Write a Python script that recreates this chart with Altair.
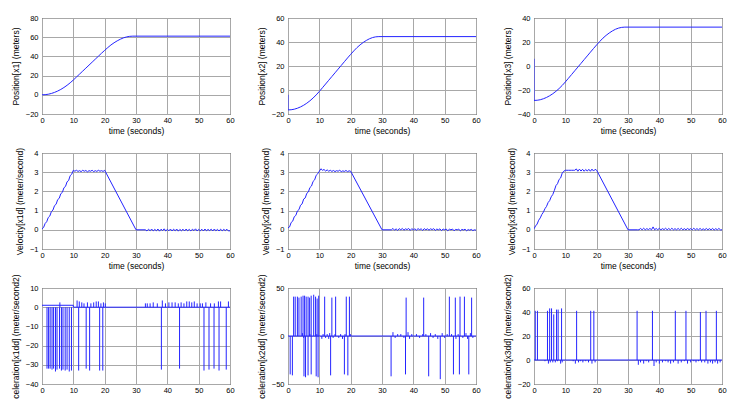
import altair as alt
import pandas as pd

BLUE = "#2424ff"
W, H = 188, 96

# ---------------- data ----------------
# Position (1-second samples 0..30, then the plateau to 60)
pos_t = [0, 1, 2, 3, 4, 5, 6, 7, 8, 9, 10, 11, 12, 13, 14, 15, 16, 17, 18, 19, 20,
         21, 22, 23, 24, 25, 26, 27, 28, 29, 30, 60]
pos_x1 = [0.0, 0.15, 0.6, 1.4, 2.5, 3.9, 5.6, 7.6, 9.9, 12.5, 15.4, 18.5, 21.6, 24.7, 27.8,
          30.9, 34.0, 37.1, 40.2, 43.3, 46.3, 49.2, 51.9, 54.2, 56.2, 57.9, 59.3, 60.3, 60.9,
          61.1, 61.1, 61.1]
pos_x2 = [-16.6, -16.45, -16.0, -15.2, -14.1, -12.7, -11.0, -9.0, -6.7, -4.1, -1.2, 1.9, 5.0,
          8.1, 11.2, 14.3, 17.4, 20.5, 23.6, 26.7, 29.7, 32.6, 35.3, 37.6, 39.6, 41.3, 42.7,
          43.7, 44.3, 44.5, 44.5, 44.5]
pos_x3 = [-28.7, -28.55, -28.1, -27.3, -26.2, -24.8, -23.1, -21.1, -18.8, -16.2, -13.3, -10.2,
          -7.1, -4.0, -0.9, 2.2, 5.3, 8.4, 11.5, 14.6, 17.6, 20.5, 23.2, 25.5, 27.5, 29.2,
          30.6, 31.6, 32.2, 32.4, 32.4, 32.4]
pos_x2_start = -4.0
pos_x3_start = 6.0

# Velocity: ramp (0..10 step .5), plateau (10.5..20 step .5), 30, then 33..60 step .5
vel_ramp_t = [0, 0.5, 1, 1.5, 2, 2.5, 3, 3.5, 4, 4.5, 5, 5.5, 6, 6.5, 7, 7.5, 8, 8.5, 9, 9.5, 10]
vel_plat_t = [10.5, 11, 11.5, 12, 12.5, 13, 13.5, 14, 14.5, 15, 15.5, 16, 16.5, 17, 17.5, 18,
              18.5, 19, 19.5, 20]
vel_stop_t = [30]
vel_tail_t = [33 + 0.5 * i for i in range(55)]

v1_ramp = [0.05, 0.12, 0.33, 0.42, 0.64, 0.72, 0.95, 1.03, 1.26, 1.33, 1.57, 1.64, 1.88, 1.95,
           2.19, 2.26, 2.5, 2.57, 2.82, 2.9, 3.1]
v1_plat = [3.05, 3.1, 3.04, 3.08, 3.03, 3.1, 3.05, 3.09, 3.02, 3.08, 3.05, 3.1, 3.03, 3.08, 3.04,
           3.1, 3.05, 3.08, 3.04, 3.1]
v1_tail = [0.0, -0.06, 0.03, -0.05, 0.04, -0.06, 0.02, -0.05, 0.04, -0.07, 0.03, -0.04, 0.05,
           -0.06, 0.02, -0.05, 0.04, -0.06, 0.03, -0.05, 0.04, -0.07, 0.02, -0.05, 0.03, -0.06,
           0.04, -0.05, 0.02, -0.06, 0.03, -0.04, 0.05, -0.06, 0.02, -0.05, 0.03, -0.06, 0.04,
           -0.05, 0.02, -0.04, 0.03, -0.06, 0.04, -0.05, 0.02, -0.06, 0.03, -0.05, 0.02, -0.04,
           0.03, -0.06, -0.05]

v2_ramp = [0.1, 0.15, 0.38, 0.45, 0.68, 0.75, 0.98, 1.05, 1.28, 1.35, 1.6, 1.66, 1.9, 1.97, 2.2,
           2.28, 2.52, 2.6, 2.84, 2.92, 3.05]
v2_plat = [3.18, 3.1, 3.14, 3.06, 3.12, 3.05, 3.1, 3.04, 3.09, 3.03, 3.08, 3.05, 3.1, 3.03, 3.07,
           3.04, 3.09, 3.03, 3.07, 3.05]
v2_tail = [0.0, 0.07, -0.02, 0.05, -0.03, 0.06, 0.0, 0.07, -0.02, 0.05, 0.01, 0.07, -0.03, 0.06,
           0.0, 0.05, -0.02, 0.06, 0.01, 0.05, -0.03, 0.06, 0.0, 0.05, -0.02, 0.05, 0.01, 0.06,
           -0.03, 0.04, 0.0, 0.05, -0.04, 0.04, 0.0, 0.04, -0.05, 0.03, 0.0, 0.04, -0.05, 0.02,
           0.0, 0.03, -0.05, 0.02, -0.01, 0.03, -0.05, 0.01, -0.02, 0.02, -0.04, 0.0, -0.02]

v3_ramp = [0.05, 0.2, 0.3, 0.5, 0.62, 0.8, 0.92, 1.1, 1.22, 1.42, 1.52, 1.72, 1.84, 2.05, 2.3,
           2.4, 2.62, 2.7, 2.95, 3.05, 3.1]
v3_plat = [3.1, 3.1, 3.1, 3.1, 3.1, 3.1, 3.17, 3.05, 3.16, 3.06, 3.15, 3.05, 3.14, 3.06, 3.15,
           3.05, 3.16, 3.06, 3.15, 3.1]
v3_tail = [0.0, 0.0, 0.07, 0.0, 0.08, 0.0, 0.06, 0.01, 0.07, 0.0, 0.15, 0.0, 0.07, 0.0, 0.08,
           0.0, 0.06, 0.01, 0.08, 0.0, 0.07, 0.0, 0.08, 0.0, 0.06, 0.0, 0.07, 0.0, 0.08, 0.0,
           0.06, 0.0, 0.07, 0.01, 0.06, 0.0, 0.08, 0.0, 0.06, 0.0, 0.07, 0.0, 0.05, 0.0, 0.07,
           0.0, 0.06, 0.0, 0.07, -0.01, 0.06, 0.0, 0.07, 0.0, 0.0]

# Acceleration: baseline + spikes (time, peak)
a1_base_t = [0, 10, 10, 60]
a1_base_v = [1, 1, 0, 0]
a1_spk_t = [1.6, 2.1, 2.6, 3.2, 3.7, 4.3, 4.8, 5.6, 6.2, 6.7, 7.4, 8.0, 8.7, 9.4, 11.7, 14.1,
            15.2, 18.4, 19.4, 38.1, 43.9, 51.7, 53.3, 54.9, 56.5, 58.8,
            5.7, 11.2, 11.9, 12.7, 13.4, 14.5, 15.6, 16.5, 17.3, 18.0, 18.8, 19.6, 20.2, 33.0,
            33.6, 34.5, 35.5, 36.8, 38.4, 39.4, 40.5, 41.5, 42.5, 43.5, 44.4, 45.3, 46.2, 47.0,
            47.8, 48.6, 49.5, 50.5, 51.2, 52.3, 53.8, 55.0, 56.3, 57.0, 59.5]
a1_spk_v = [-32, -32, -32, -32.5, -32, -33.5, -32.5, -32, -33, -32.5, -33, -32.5, -33.5, -33,
            -33, -32, -33, -33, -33, -32.5, -32, -33, -32.5, -32, -33, -32.5,
            2.5, 3.5, 3, 2.5, 2, 2.5, 2, 2.5, 3, 3, 2, 2.5, 2, 2, 2, 2, 2.5, 2, 3.5, 2, 2.5,
            2.5, 2.5, 2, 2.5, 2, 3, 3, 2.5, 3, 2, 2, 2, 2.5, 2, 2, 3, 3, 3]

a2_base_t = [0, 60]
a2_base_v = [0, 0]
a2_spk_t = [1.8, 2.3, 3.0, 3.5, 4.2, 4.8, 5.3, 5.8, 6.4, 6.9, 7.4, 8.2, 8.8, 9.3, 9.8, 11.7,
            14.0, 15.2, 18.6, 19.6, 37.7, 43.3, 51.5, 53.4, 54.9, 56.3, 58.6,
            0.7, 1.4, 5.1, 5.6, 6.4, 7.4, 9.0, 9.6, 13.6, 18.0, 19.1, 32.9, 37.5, 44.9, 48.6,
            52.8, 54.7, 57.7,
            4.6, 5.0, 7.0, 9.2, 10.8, 11.2, 12.0, 12.5, 13.0, 13.3, 14.4, 15.0, 16.2, 16.8,
            17.4, 18.2, 19.9, 33.5, 34.2, 35.0, 36.0, 37.0, 38.3, 38.8, 39.5, 41.0, 42.0, 43.0,
            44.0, 45.5, 46.3, 47.0, 47.8, 49.2, 50.0, 50.8, 52.2, 53.6, 54.3, 55.8, 56.8, 57.3,
            58.2, 59.0]
a2_spk_v = [41, 41, 41, 40, 41, 42, 42, 41, 41, 40, 42, 43, 41, 39, 42, 41, 40, 41, 41, 41, 40,
            40, 41, 40, 41, 41, 40,
            -40, -41, -42, -43, -41, -40, -42, -43, -41, -40, -41, -42, -40, -42, -45, -40, -40,
            -40,
            3, -2, 2, 2, -3, 2, -2, 2, -3, 3, -2, 2, -2, 2, -3, 2, 2, 4, -2, 2, 2, -2, 4, -3, 2,
            2, -2, 2, 2, 3, -2, 2, -3, 3, -2, 2, 2, -3, 2, -2, 3, -3, 3, -2]

a3_base_t = [0, 60]
a3_base_v = [0, 0]
a3_spk_t = [0.4, 1.1, 4.3, 5.0, 5.6, 6.3, 7.2, 7.7, 8.8, 13.6, 18.1, 19.1, 32.9, 37.8, 45.1,
            48.5, 53.1, 54.9, 58.2,
            3.5, 4.6, 5.2, 6.0, 6.8, 7.5, 8.5, 9.0, 12.5, 13.2, 14.2, 14.8, 15.6, 16.5, 17.4,
            18.5, 19.5, 33.3, 34.0, 35.0, 35.8, 36.6, 38.3, 39.0, 40.0, 41.0, 42.0, 42.8, 43.6,
            44.5, 46.0, 47.0, 48.0, 49.0, 50.0, 51.0, 51.7, 52.5, 53.5, 54.5, 55.5, 56.3, 57.0,
            57.8, 58.6, 59.4]
a3_spk_v = [41, 41, 41, 43, 43, 38, 42, 42, 43, 41, 41, 41, 41, 41, 41, 41, 40, 41, 41,
            -1, -3, -2, -2, -2, -1, -3, -2, -1, -3, -2, -1, -2, -1, -2, -3, -2, -4, -2, -3, -1,
            -2, -5, -2, -3, -2, -1, -2, -3, -2, -3, -2, -1, -3, -2, -1, -2, -1, -2, -2, -3, -2,
            -3, -2, -3, -2]

XTICKS = [0, 10, 20, 30, 40, 50, 60]


def xenc(title):
    return alt.X("t:Q", scale=alt.Scale(domain=[0, 60], nice=False, zero=False),
                 axis=alt.Axis(values=XTICKS, title=title, labelFlush=False,
                               labelPadding=2, titlePadding=3))


def yenc(field, dom, vals, title):
    return alt.Y(f"{field}:Q", scale=alt.Scale(domain=dom, nice=False, zero=False),
                 axis=alt.Axis(values=vals, title=title, labelPadding=4, titlePadding=5))


def line_panel(ts, vs, dom, vals, ytitle, xtitle):
    df = pd.DataFrame({"t": ts, "v": vs, "o": list(range(len(ts)))})
    return alt.Chart(df).mark_line(color=BLUE, strokeWidth=1, clip=True).encode(
        x=xenc(xtitle), y=yenc("v", dom, vals, ytitle), order="o:Q"
    ).properties(width=W, height=H)


def accel_panel(bt, bv, st, sv, dom, vals, ytitle):
    bdf = pd.DataFrame({"t": bt, "v": bv, "o": list(range(len(bt)))})
    sdf = pd.DataFrame({"t": st, "v": sv, "v0": [0] * len(st)})
    base = alt.Chart(bdf).mark_line(color=BLUE, strokeWidth=1, clip=True).encode(
        x=xenc(None), y=yenc("v", dom, vals, ytitle), order="o:Q")
    spikes = alt.Chart(sdf).mark_rule(color=BLUE, strokeWidth=1, clip=True).encode(
        x=xenc(None), y=yenc("v0", dom, vals, ytitle), y2="v:Q")
    return alt.layer(base, spikes).properties(width=W, height=H)


XT = "time (seconds)"
p1 = line_panel(pos_t, pos_x1, [-20, 80], [-20, 0, 20, 40, 60, 80], "Position[x1] (meters)", XT)
p2 = line_panel([0] + pos_t, [pos_x2_start] + pos_x2, [-20, 60], [-20, 0, 20, 40, 60],
                "Position[x2] (meters)", XT)
p3 = line_panel([0] + pos_t, [pos_x3_start] + pos_x3, [-40, 40], [-40, -20, 0, 20, 40],
                "Position[x3] (meters)", XT)

vt = vel_ramp_t + vel_plat_t + vel_stop_t + vel_tail_t
VD, VV = [-1, 4], [-1, 0, 1, 2, 3, 4]
q1 = line_panel(vt, v1_ramp + v1_plat + [0.0] + v1_tail, VD, VV, "Velocity[x1d] (meter/second)", XT)
q2 = line_panel(vt, v2_ramp + v2_plat + [0.0] + v2_tail, VD, VV, "Velocity[x2d] (meter/second)", XT)
q3 = line_panel(vt, v3_ramp + v3_plat + [0.0] + v3_tail, VD, VV, "Velocity[x3d] (meter/second)", XT)

r1 = accel_panel(a1_base_t, a1_base_v, a1_spk_t, a1_spk_v, [-40, 10], [-40, -30, -20, -10, 0, 10],
                 "celeration[x1dd] (meter/second2)")
r2 = accel_panel(a2_base_t, a2_base_v, a2_spk_t, a2_spk_v, [-50, 50], [-50, 0, 50],
                 "celeration[x2dd] (meter/second2)")
r3 = accel_panel(a3_base_t, a3_base_v, a3_spk_t, a3_spk_v, [-20, 60], [-20, 0, 20, 40, 60],
                 "celeration[x3dd] (meter/second2)")

chart = alt.concat(p1, p2, p3, q1, q2, q3, r1, r2, r3, columns=3,
                   spacing={"row": 39, "column": 58}, bounds="flush").configure_view(
    stroke="black", strokeWidth=1
).configure_axis(
    grid=True, gridColor="#a8a8a8", gridWidth=1, domain=False, ticks=False,
    labelFont="Liberation Sans", labelFontSize=7.5, labelColor="black",
    titleFont="Liberation Sans", titleFontSize=8.5, titleFontWeight="normal",
    titleColor="black", labelOverlap=False
).properties(background="white",
             padding={"left": 2, "top": 5, "right": 5, "bottom": 5})

chart.save("out.html", embed_options={"renderer": "svg", "actions": False})
